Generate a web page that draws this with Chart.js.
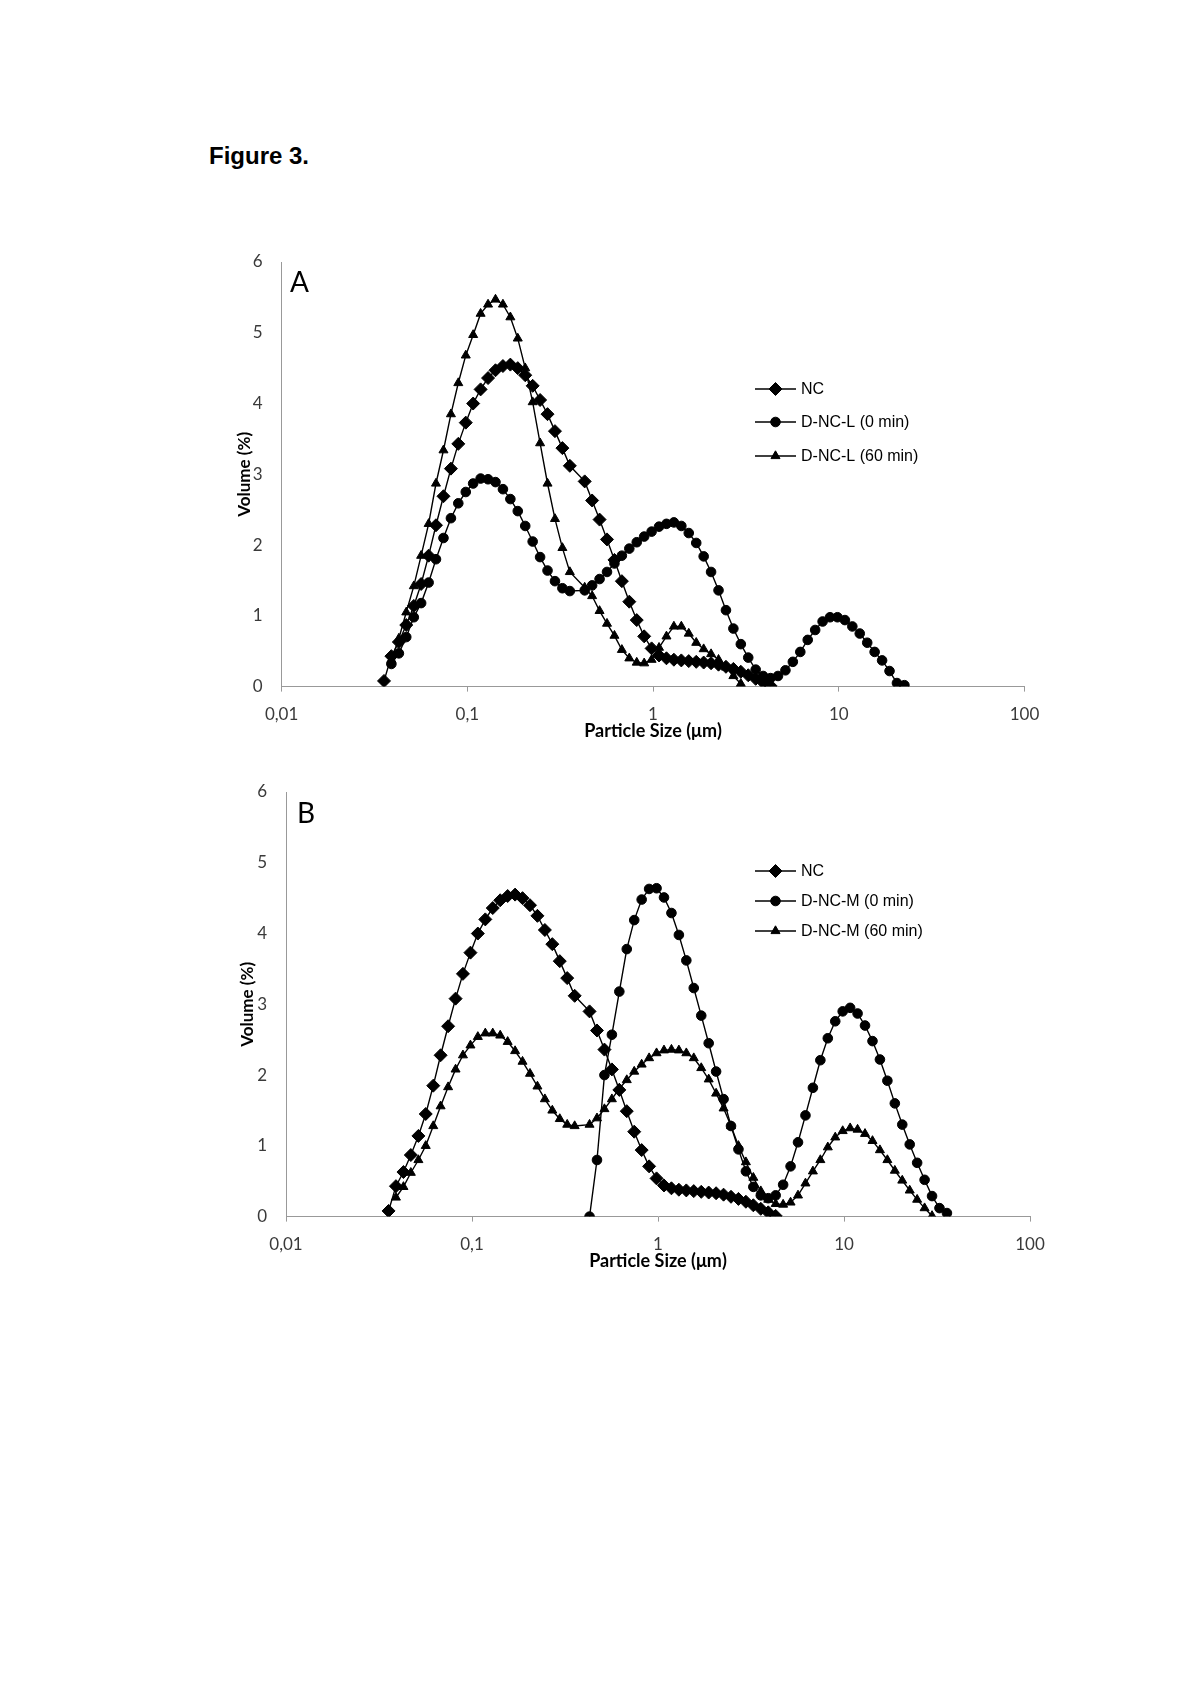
<!DOCTYPE html>
<html>
<head>
<meta charset="utf-8">
<title>Figure 3</title>
<script src="https://cdn.jsdelivr.net/npm/chart.js@4.4.1/dist/chart.umd.min.js"></script>
<style>
  html, body { margin: 0; padding: 0; background: #fff; }
  body { width: 1200px; height: 1698px; position: relative; }
  .fig-title {
    position: absolute; left: 209px; top: 144px;
    font: bold 24px "Liberation Sans", Arial, sans-serif; line-height: 24px;
  }
  canvas { position: absolute; left: 180px; }
  #chartA { top: 230px; }
  #chartB { top: 760px; }
</style>
</head>
<body>
<div class="fig-title">Figure 3.</div>
<canvas id="chartA" width="880" height="530"></canvas>
<canvas id="chartB" width="880" height="530"></canvas>

<script>
// ==============================
// data
// ==============================
// particle size classes (µm); the instrument skips one class near 0.39 µm
const sizes = [
  0.0356, 0.0390, 0.0428, 0.0469, 0.0515, 0.0564, 0.0619, 0.0678, 0.0744, 0.0816,
  0.0894, 0.0981, 0.1075, 0.1179, 0.1293, 0.1418, 0.1555, 0.1705, 0.1869, 0.2050,
  0.2248, 0.2465, 0.2703, 0.2964, 0.3250, 0.3564,
  0.4285, 0.4699, 0.5153, 0.5650, 0.6196, 0.6794, 0.7450, 0.8169, 0.8958, 0.9823,
  1.077, 1.181, 1.295, 1.420, 1.557, 1.708, 1.873, 2.053, 2.252, 2.469,
  2.707, 2.969, 3.255, 3.570, 3.914, 4.292, 4.707, 5.161, 5.659, 6.206,
  6.805, 7.462, 8.183, 8.973, 9.839, 10.79, 11.83, 12.97, 14.23, 15.60,
  17.11, 18.76, 20.57, 22.56, 24.73, 27.12, 29.74, 32.61, 35.76
];

// NC (same curve in both panels), starts at sizes[0]
const ncStart = 0;
const ncValues = [
  0.08, 0.43, 0.63, 0.87, 1.14, 1.45, 1.85, 2.28, 2.69, 3.08,
  3.43, 3.73, 4.00, 4.20, 4.36, 4.47, 4.53, 4.55, 4.50, 4.40,
  4.25, 4.05, 3.85, 3.61, 3.37, 3.12,
  2.90, 2.63, 2.36, 2.08, 1.79, 1.49, 1.20, 0.94, 0.71, 0.54,
  0.44, 0.40, 0.38, 0.37, 0.36, 0.35, 0.34, 0.33, 0.31, 0.28,
  0.25, 0.21, 0.16, 0.11, 0.06, 0.01
];

// Panel A: D-NC-L (0 min), starts at sizes[1]
const dncL0Start = 1;
const dncL0Values = [
  0.32, 0.47, 0.70, 0.98, 1.18, 1.47, 1.80, 2.10, 2.38,
  2.59, 2.75, 2.87, 2.94, 2.93, 2.89, 2.79, 2.65, 2.48, 2.27,
  2.05, 1.83, 1.64, 1.49, 1.39, 1.35,
  1.36, 1.43, 1.52, 1.62, 1.74, 1.85, 1.95, 2.04, 2.12, 2.19,
  2.26, 2.30, 2.32, 2.27, 2.17, 2.03, 1.84, 1.62, 1.36, 1.08,
  0.82, 0.60, 0.41, 0.24, 0.15, 0.12, 0.15, 0.23, 0.35, 0.49,
  0.66, 0.80, 0.92, 0.98, 0.98, 0.94, 0.85, 0.75, 0.62, 0.49,
  0.37, 0.22, 0.05, 0.02
];

// Panel A: D-NC-L (60 min), starts at sizes[1]
const dncL60Start = 1;
const dncL60Values = [
  0.38, 0.68, 1.05, 1.42, 1.85, 2.30, 2.87, 3.34, 3.85,
  4.29, 4.68, 4.97, 5.27, 5.40, 5.47, 5.40, 5.22, 4.92, 4.50,
  4.02, 3.44, 2.87, 2.37, 1.96, 1.62,
  1.40, 1.28, 1.07, 0.89, 0.72, 0.52, 0.40, 0.34, 0.33, 0.38,
  0.55, 0.71, 0.85, 0.85, 0.75, 0.62, 0.53, 0.46, 0.38, 0.27,
  0.15, 0.04
];

// Panel B: D-NC-M (0 min), starts at sizes[26] (0.43 µm)
const dncM0Start = 26;
const dncM0Values = [
  0.00, 0.80, 2.00, 2.57, 3.18, 3.78, 4.19, 4.48, 4.63, 4.64,
  4.51, 4.29, 3.98, 3.62, 3.23, 2.84, 2.45, 2.05, 1.66, 1.28,
  0.95, 0.64, 0.42, 0.30, 0.26, 0.30, 0.45, 0.71, 1.05, 1.43,
  1.82, 2.21, 2.52, 2.76, 2.90, 2.95, 2.87, 2.70, 2.48, 2.22,
  1.92, 1.60, 1.30, 1.02, 0.76, 0.52, 0.29, 0.12, 0.05
];

// Panel B: D-NC-M (60 min), starts at sizes[1]
const dncM60Start = 1;
const dncM60Values = [
  0.27, 0.42, 0.62, 0.80, 1.00, 1.28, 1.56, 1.83, 2.08,
  2.28, 2.42, 2.54, 2.59, 2.59, 2.56, 2.47, 2.34, 2.19, 2.02,
  1.84, 1.66, 1.50, 1.38, 1.30, 1.28,
  1.30, 1.39, 1.52, 1.66, 1.81, 1.93, 2.05, 2.15, 2.24, 2.31,
  2.35, 2.36, 2.35, 2.31, 2.24, 2.10, 1.94, 1.74, 1.53, 1.28,
  1.00, 0.77, 0.55, 0.36, 0.24, 0.18, 0.17, 0.20, 0.30, 0.47,
  0.64, 0.80, 0.98, 1.12, 1.21, 1.25, 1.23, 1.17, 1.07, 0.94,
  0.80, 0.65, 0.51, 0.37, 0.24, 0.12, 0.01
];

// axis ticks
const xTicks = [0.01, 0.1, 1, 10, 100];
const xTickLabels = ["0,01", "0,1", "1", "10", "100"];
const yTicks = [0, 1, 2, 3, 4, 5, 6];

// legend labels
const labelsA = ["NC", "D-NC-L (0 min)", "D-NC-L (60 min)"];
const labelsB = ["NC", "D-NC-M (0 min)", "D-NC-M (60 min)"];

// ==============================
// helpers
// ==============================
function toPoints(start, values) {
  return values.map((v, i) => ({ x: sizes[start + i], y: v }));
}

const MARKERS = [
  { style: "rectRot", radius: 6.5 },
  { style: "circle", radius: 4.8 },
  { style: "triangle", radius: 5.2 }
];

function makeDataset(label, points, m) {
  return {
    label: label,
    data: points,
    borderColor: "#000",
    borderWidth: 1.4,
    backgroundColor: "#000",
    pointStyle: m.style,
    pointRadius: m.radius,
    pointHoverRadius: m.radius,
    pointBackgroundColor: "#000",
    pointBorderColor: "#000",
    pointBorderWidth: 1,
    tension: 0,
    fill: false
  };
}

// simple marker drawing for the legend
function drawMarker(ctx, style, r, x, y) {
  ctx.beginPath();
  if (style === "rectRot") {
    ctx.moveTo(x, y - r);
    ctx.lineTo(x + r, y);
    ctx.lineTo(x, y + r);
    ctx.lineTo(x - r, y);
  } else if (style === "circle") {
    ctx.arc(x, y, r, 0, Math.PI * 2);
  } else {
    ctx.moveTo(x, y - r);
    ctx.lineTo(x + r * 0.866, y + r * 0.5);
    ctx.lineTo(x - r * 0.866, y + r * 0.5);
  }
  ctx.closePath();
  ctx.fill();
  ctx.stroke();
}

// legend + panel letter drawn inside the plot
const panelPlugin = {
  id: "panelDecor",
  afterDraw(chart, args, opts) {
    const ctx = chart.ctx;
    ctx.save();
    ctx.fillStyle = "#000";
    ctx.strokeStyle = "#000";

    chart.data.datasets.forEach((ds, i) => {
      const y = opts.rows[i];
      ctx.lineWidth = 1.4;
      ctx.beginPath();
      ctx.moveTo(opts.x1, y);
      ctx.lineTo(opts.x2, y);
      ctx.stroke();
      ctx.lineWidth = 1;
      drawMarker(ctx, ds.pointStyle, ds.pointRadius, (opts.x1 + opts.x2) / 2, y);
      ctx.font = '16px "Liberation Sans", Arial, sans-serif';
      ctx.textBaseline = "middle";
      ctx.textAlign = "left";
      ctx.fillText(ds.label, opts.textX, y + 1);
    });

    ctx.font = '28px Lato, "Open Sans", sans-serif';
    ctx.textBaseline = "alphabetic";
    ctx.fillText(opts.letter, opts.letterX, opts.letterY);
    ctx.restore();
  }
};

function makeChart(canvasId, datasets, cfg) {
  new Chart(document.getElementById(canvasId), {
    type: "line",
    data: { datasets: datasets },
    plugins: [panelPlugin],
    options: {
      responsive: false,
      animation: false,
      events: [],
      layout: { padding: { top: 32, right: cfg.padRight, left: 0, bottom: 0 } },
      scales: {
        x: {
          type: "logarithmic",
          min: 0.01,
          max: 100,
          afterBuildTicks: s => { s.ticks = xTicks.map(v => ({ value: v })); },
          afterFit: s => { s.height = 73.4; },
          ticks: {
            autoSkip: false,
            maxRotation: 0,
            padding: 13,
            color: "#3a3a3a",
            font: { family: "Lato", size: 17 },
            callback: v => xTickLabels[xTicks.indexOf(v)]
          },
          grid: {
            drawOnChartArea: false,
            drawTicks: true,
            tickLength: 5,
            color: "#999"
          },
          border: { display: true, color: "#999", width: 1 },
          title: {
            display: true,
            text: "Particle Size (\u03bcm)",
            color: "#000",
            font: { family: "Lato", size: 18, weight: "bold" },
            padding: { top: 0, bottom: 18 }
          }
        },
        y: {
          type: "linear",
          min: 0,
          max: 6,
          afterBuildTicks: s => { s.ticks = yTicks.map(v => ({ value: v })); },
          afterFit: s => { s.width = cfg.yWidth; },
          ticks: {
            padding: 19,
            color: "#3a3a3a",
            font: { family: "Lato", size: 17 }
          },
          grid: { display: false, drawTicks: false },
          border: { display: true, color: "#999", width: 1 },
          title: {
            display: true,
            text: "Volume (%)",
            color: "#000",
            font: { family: "Lato", size: 17, weight: "bold" },
            padding: { top: cfg.yTitlePad, bottom: 0 }
          }
        }
      },
      plugins: {
        legend: { display: false },
        tooltip: { enabled: false },
        panelDecor: cfg.decor
      }
    }
  });
}

// ==============================
// panel A
// ==============================
makeChart("chartA", [
  makeDataset(labelsA[0], toPoints(ncStart, ncValues), MARKERS[0]),
  makeDataset(labelsA[1], toPoints(dncL0Start, dncL0Values), MARKERS[1]),
  makeDataset(labelsA[2], toPoints(dncL60Start, dncL60Values), MARKERS[2])
], {
  yWidth: 101.6,
  padRight: 35.5,
  yTitlePad: 54,
  decor: { rows: [159, 192, 226], x1: 575, x2: 616, textX: 621, letter: "A", letterX: 110, letterY: 62 }
});

// ==============================
// panel B
// ==============================
makeChart("chartB", [
  makeDataset(labelsB[0], toPoints(ncStart, ncValues), MARKERS[0]),
  makeDataset(labelsB[1], toPoints(dncM0Start, dncM0Values), MARKERS[1]),
  makeDataset(labelsB[2], toPoints(dncM60Start, dncM60Values), MARKERS[2])
], {
  yWidth: 106,
  padRight: 30,
  yTitlePad: 57,
  decor: { rows: [111, 141, 171], x1: 575, x2: 616, textX: 621, letter: "B", letterX: 117, letterY: 63 }
});
</script>
</body>
</html>
